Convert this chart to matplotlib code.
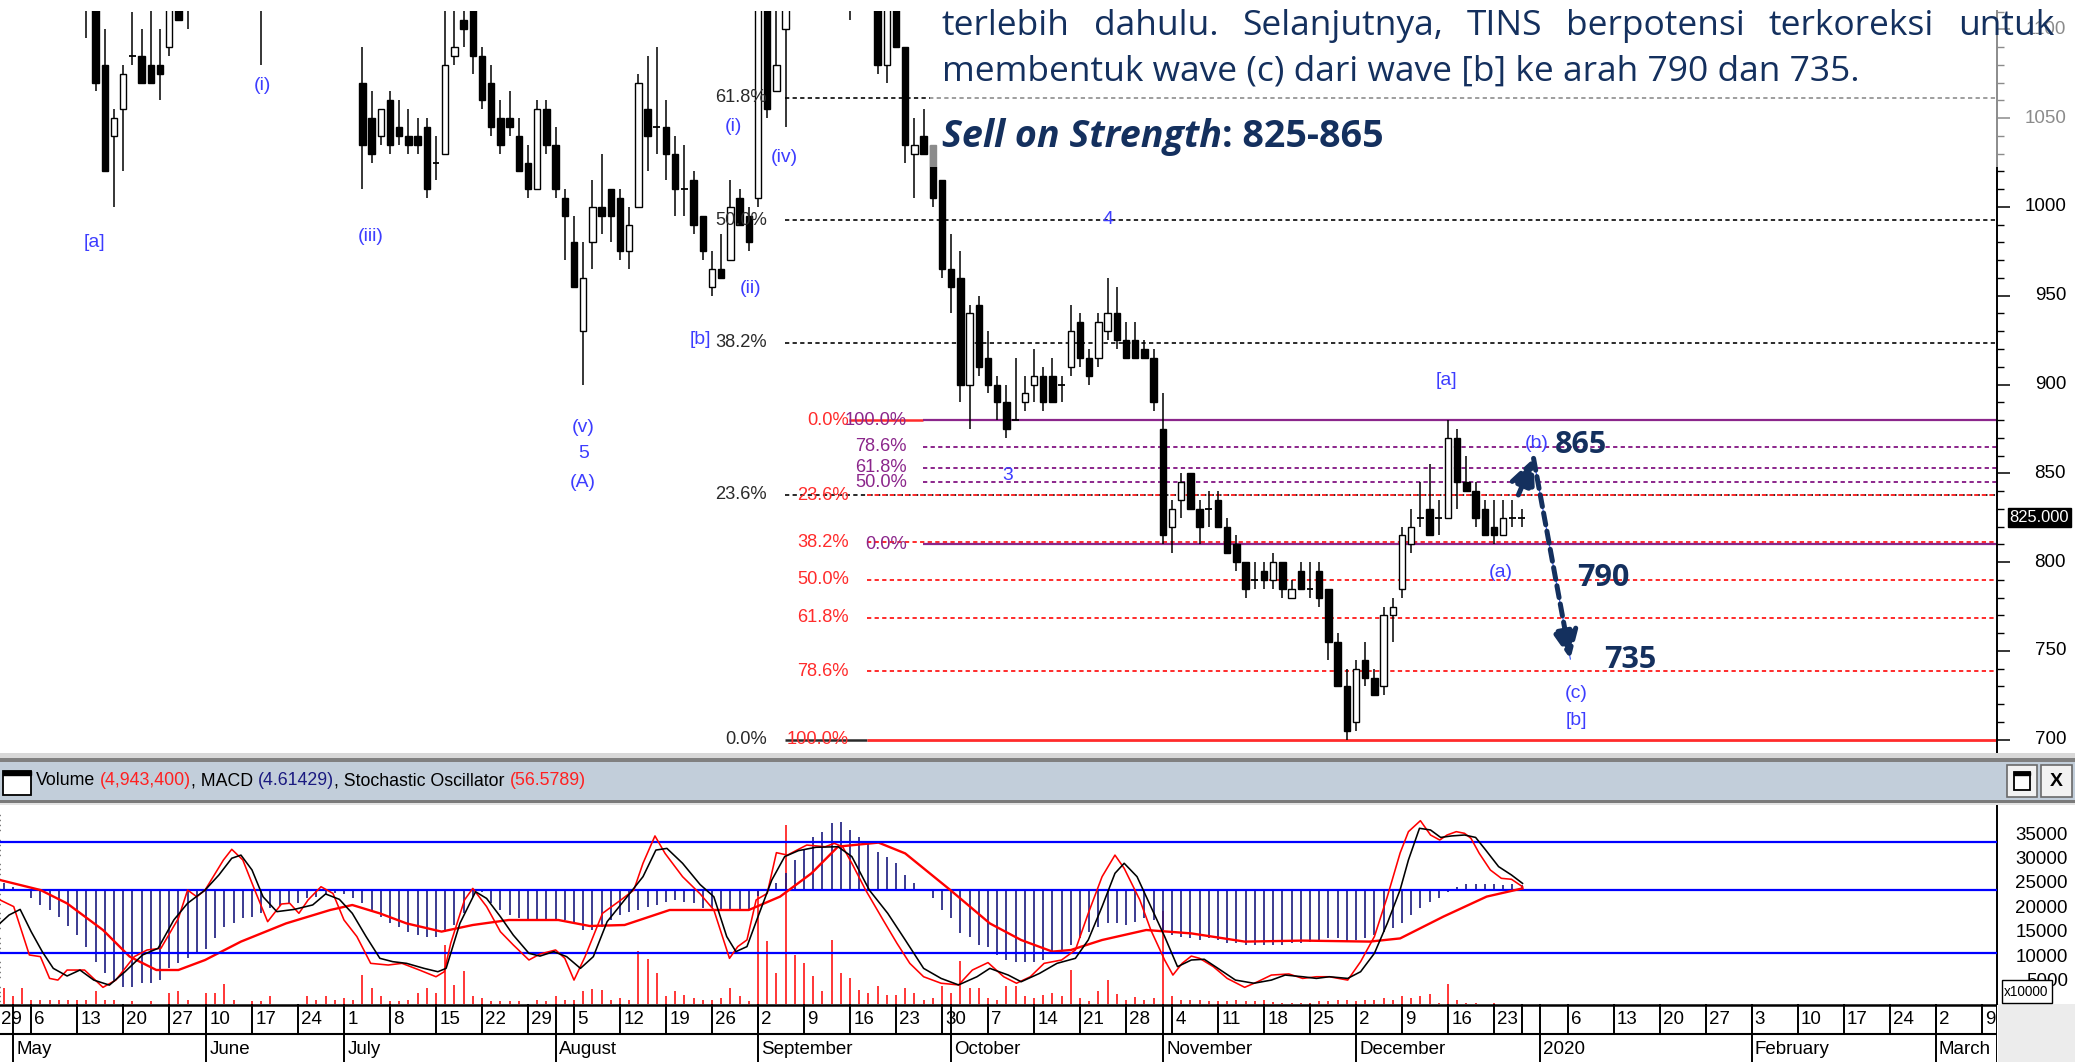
"""
TINS daily candlestick chart (May - Dec 2019) with Elliott-wave labels,
three Fibonacci retracement sets and a Volume / MACD / Stochastic pane.
Saved as out.png (2075 x 1062 px).
"""

import matplotlib

matplotlib.use("Agg")
import matplotlib.pyplot as plt
from matplotlib import font_manager
from matplotlib.patches import Rectangle
from matplotlib.transforms import Affine2D

# ----------------------------------------------------------------------------
# data (x = trading-day index, 0 = Monday 6 May 2019)
# ----------------------------------------------------------------------------
CANDLE_DAY = [6, 7, 8, 9, 10, 11, 12, 13, 14, 15, 16, 17, 25,
              36, 37, 38, 39, 40, 41, 42, 43, 44, 45, 46, 47, 48, 49, 50,
              51, 52, 53, 54, 55, 56, 57, 58, 59, 60, 61, 62, 63, 64, 65,
              66, 67, 68, 69, 70, 71, 72, 73, 74, 75, 76, 77, 78, 79, 80,
              81, 82, 89, 92, 93, 94, 95, 96, 97, 98, 99, 100, 101, 102,
              103, 104, 105, 106, 107, 108, 109, 110, 111, 112, 113, 114,
              115, 116, 117, 118, 119, 120, 121, 122, 123, 124, 125, 126,
              127, 128, 129, 130, 131, 132, 133, 134, 135, 136, 137, 138,
              139, 140, 141, 142, 143, 144, 145, 146, 147, 148, 149, 150,
              151, 152, 153, 154, 155, 156, 157, 158, 159, 160, 161, 162]
OPEN = [1130, 1120, 1080, 1040, 1055, 1085, 1085, 1080, 1080, 1090, 1115, 1130, 1140,
        1070, 1050, 1040, 1060, 1045, 1040, 1040, 1045, 1025, 1030, 1085, 1105, 1115, 1085, 1070,
        1050, 1050, 1040, 1025, 1010, 1055, 1035, 1005, 980, 930, 980, 1000, 1010, 1005, 975,
        1000, 1055, 1045, 1045, 1030, 1010, 1015, 995, 955, 965, 970, 1005, 995, 1005, 1160,
        1065, 1100, 1130, 1140, 1080, 1125, 1090, 1030, 1040, 1035, 1015, 965, 960, 900,
        945, 915, 900, 890, 880, 890, 900, 905, 905, 900, 910, 935,
        915, 915, 930, 940, 925, 925, 920, 915, 875, 820, 835, 850,
        830, 830, 835, 820, 810, 800, 790, 795, 790, 800, 780, 795,
        785, 795, 785, 755, 730, 710, 745, 735, 730, 770, 785, 810,
        825, 830, 825, 825, 870, 845, 840, 830, 820, 815, 825, 825]
HIGH = [1140, 1125, 1100, 1055, 1080, 1110, 1100, 1115, 1100, 1135, 1125, 1140, 1150,
        1090, 1065, 1055, 1065, 1060, 1055, 1050, 1050, 1040, 1115, 1115, 1115, 1120, 1090, 1080,
        1060, 1065, 1050, 1035, 1060, 1060, 1045, 1010, 995, 980, 1015, 1030, 1010, 1010, 1000,
        1075, 1085, 1090, 1060, 1040, 1035, 1020, 995, 975, 985, 1015, 1010, 1000, 1150, 1170,
        1120, 1130, 1140, 1150, 1135, 1135, 1090, 1050, 1055, 1035, 1015, 985, 975, 945,
        950, 930, 905, 900, 915, 905, 920, 910, 915, 905, 945, 940,
        920, 940, 960, 955, 935, 935, 925, 920, 895, 835, 850, 850,
        835, 840, 840, 825, 815, 800, 800, 800, 805, 800, 790, 800,
        800, 800, 785, 760, 740, 745, 755, 740, 775, 780, 820, 830,
        845, 855, 835, 880, 875, 860, 845, 835, 835, 835, 835, 830]
LOW = [1095, 1065, 1020, 1000, 1020, 1080, 1070, 1070, 1060, 1085, 1105, 1100, 1080,
       1010, 1025, 1035, 1030, 1035, 1030, 1030, 1005, 1015, 1030, 1080, 1090, 1075, 1055, 1040,
       1030, 1040, 1020, 1005, 1010, 1030, 1005, 970, 955, 900, 965, 985, 980, 970, 965,
       1000, 1020, 1030, 1015, 995, 995, 985, 970, 950, 960, 970, 990, 975, 1000, 1050,
       1065, 1045, 1105, 1075, 1070, 1090, 1025, 1005, 1030, 1000, 960, 940, 890, 875,
       905, 895, 880, 870, 880, 885, 890, 885, 890, 890, 905, 910,
       900, 910, 925, 920, 915, 915, 915, 885, 810, 805, 825, 830,
       810, 820, 820, 805, 795, 780, 785, 785, 785, 780, 780, 785,
       780, 775, 745, 730, 700, 705, 730, 725, 725, 755, 780, 805,
       820, 815, 815, 825, 830, 840, 820, 815, 810, 815, 820, 820]
CLOSE = [1120, 1070, 1020, 1050, 1075, 1085, 1070, 1070, 1075, 1125, 1105, 1120, 1130,
         1035, 1030, 1055, 1035, 1040, 1035, 1035, 1010, 1025, 1080, 1090, 1100, 1085, 1060, 1045,
         1035, 1045, 1020, 1010, 1055, 1035, 1010, 995, 955, 960, 1000, 995, 995, 975, 990,
         1070, 1040, 1045, 1030, 1010, 1010, 990, 975, 965, 960, 1000, 990, 980, 1140, 1055,
         1080, 1115, 1120, 1080, 1120, 1090, 1035, 1035, 1030, 1005, 965, 955, 900, 940,
         910, 900, 890, 875, 880, 895, 905, 890, 890, 900, 930, 915,
         905, 935, 940, 925, 915, 915, 915, 890, 815, 830, 845, 830,
         820, 830, 820, 805, 800, 785, 790, 790, 800, 785, 785, 785,
         785, 780, 755, 730, 705, 740, 735, 725, 770, 775, 815, 820,
         825, 815, 825, 870, 845, 840, 825, 815, 815, 825, 825, 825]
LAST_PRICE = 825

# indicator pane, one value per trading day starting at IND_FIRST_DAY
IND_FIRST_DAY = -3
VOLUME = [3750, 2045, 3750,
          1360, 1360, 1360, 1360, 1360, 1360, 1360, 3070, 1360, 1360,
          340, 1020, 340, 1020, 340, 2730, 3070, 1360, 340, 2730,
          2730, 4570, 1360, 340, 1020, 1020, 2045, 340, 340, 340,
          2045, 1360, 2045, 1360, 1700, 1360, 6340, 3750, 2045, 1020,
          1020, 1360, 2730, 3750, 2730, 12475, 4430, 7300, 2045, 1700,
          1020, 1020, 1020, 1020, 340, 1360, 1020, 2045, 1360, 1360,
          3070, 3610, 3410, 1360, 1700, 1360, 11390, 9750, 6815, 2045,
          3070, 2385, 1700, 1360, 1360, 1700, 3750, 2045, 1020, 23520,
          13290, 6815, 37000, 10430, 8860, 6135, 3070, 13630, 6815, 5790,
          3410, 2730, 4090, 2385, 2385, 3750, 2730, 1360, 1700, 4090,
          2730, 9200, 3750, 3750, 1700, 1360, 4090, 4090, 2045, 1700,
          2385, 2730, 2045, 7500, 1700, 1020, 3070, 5455, 2520, 1360,
          1840, 1360, 1700, 19430, 2045, 1360, 1360, 1360, 1020, 1020,
          1020, 1360, 1020, 1020, 1360, 880, 680, 680, 680, 680,
          1020, 1020, 1360, 1360, 1020, 1360, 1360, 1700, 1360, 2045,
          1700, 2045, 2520, 680, 4570, 1360, 680, 680, 480, 680,
          480, 480, 494]  # x10000 shares
MACD_HIST = [3.3, 1.7, 0.0,
             -4.2, -7.5, -10.0, -13.3, -18.0, -22.5, -28.3, -35.8, -41.3, -45.8,
             -48.3, -48.3, -46.7, -46.7, -45.0, -39.2, -36.7, -34.2, -31.7, -29.7,
             -24.2, -18.3, -16.7, -14.2, -13.3, -11.7, -9.2, -8.0, -7.0, -6.7,
             -4.2, -3.3, -2.0, -1.7, -2.0, -4.2, -6.7, -10.0, -13.3, -16.7,
             -18.3, -20.8, -22.5, -23.3, -23.3, -20.8, -17.5, -11.7, -3.3, -0.8,
             -6.7, -10.0, -12.5, -14.2, -15.0, -15.0, -15.0, -15.0, -15.0, -16.7,
             -20.0, -20.0, -18.3, -15.0, -12.5, -10.8, -10.0, -8.3, -7.5, -5.8,
             -5.0, -5.8, -6.7, -9.0, -9.0, -9.5, -10.0, -10.0, -10.0, -3.0,
             0.5, 3.3, 8.3, 15.0, 20.0, 26.3, 29.2, 33.7, 34.2, 30.0,
             26.3, 23.3, 19.2, 16.7, 13.3, 7.5, 3.3, 0.0, -4.2, -10.0,
             -14.2, -21.3, -23.3, -27.5, -28.3, -32.5, -35.0, -35.8, -35.8, -35.8,
             -35.0, -31.7, -30.0, -27.5, -24.2, -20.8, -18.3, -16.7, -16.7, -17.5,
             -15.8, -14.2, -15.0, -20.0, -22.5, -23.3, -24.2, -25.0, -24.2, -25.0,
             -26.7, -26.7, -27.5, -27.5, -27.5, -27.5, -27.5, -26.7, -26.7, -25.8,
             -25.0, -24.2, -24.2, -25.8, -25.0, -24.0, -22.5, -20.8, -19.0, -16.7,
             -12.5, -9.2, -5.8, -4.2, -0.8, 1.7, 3.0, 3.0, 3.0, 3.0,
             2.5, 3.0, 2.5]
SIGNAL_DAY = [-3.4, 1.0, 3.9, 7.8, 10.7, 13.6, 16.0, 18.9, 22.8, 27.7, 32.5, 34.9,
              37.9, 40.8, 44.6, 48.0, 51.9, 57.3, 60.7, 64.5, 69.4, 72.7, 78.0,
              81.4, 84.8, 87.7, 92.1, 95.0, 99.9, 104.2, 107.6, 111.0, 113.0,
              116.4, 121.2, 126.1, 131.9, 138.2, 145.5, 148.8, 153.5, 158.2, 162.1]
SIGNAL = [5.0, 0.0, -6.7, -20.0, -33.3, -40.0, -40.0, -35.0, -25.8, -16.7, -10.0, -7.5,
          -11.7, -16.7, -20.8, -17.5, -15.0, -15.0, -18.0, -17.5, -10.0, -10.0, -10.0,
          -3.3, 8.3, 21.7, 23.7, 18.3, 0.0, -16.7, -25.0, -30.8, -30.0,
          -25.0, -20.0, -21.7, -25.8, -25.3, -25.8, -24.2, -13.3, -3.3, 0.8]
STOCH_K_DAY = [-3.4, -1.9, -0.2, 1.0, 2.0, 2.9, 3.9, 5.8, 7.8, 9.2, 11.2, 12.6, 14.1,
               16.0, 17.0, 18.0, 18.9, 20.9, 21.8, 23.0, 24.3, 25.7, 27.2, 28.1, 29.1,
               30.1, 31.5, 32.8, 34.0, 35.4, 36.9, 38.8, 40.3, 42.2, 44.0, 44.9, 45.6,
               47.1, 48.0, 49.5, 51.0, 52.4, 54.1, 55.3, 57.0, 58.0, 59.0, 60.2, 62.1,
               64.1, 65.5, 66.5, 67.8, 68.9, 70.8, 72.7, 74.2, 75.9, 76.8, 77.8, 78.8,
               80.0, 81.0, 82.2, 83.4, 84.3, 86.3, 87.3, 88.2, 89.2, 90.7, 92.6, 94.1,
               95.5, 97.0, 98.9, 100.8, 102.3, 104.0, 105.7, 107.1, 108.6, 110.1, 112.0,
               113.5, 114.9, 116.4, 117.8, 118.8, 120.5, 121.7, 123.2, 124.1, 125.1,
               126.1, 127.0, 128.5, 130.0, 131.9, 133.3, 134.8, 136.7, 138.2, 139.7,
               141.1, 143.1, 144.5, 146.0, 147.4, 148.8, 149.7, 151.0, 152.1, 153.1,
               153.9, 154.9, 155.8, 156.5, 157.4, 158.6, 159.8, 160.9, 162.1]
STOCH_K = [48.7, 45.1, 19.1, 18.2, 6.5, 5.6, 11.0, 11.0, 1.7, 5.6, 18.2, 21.8, 22.7,
           38.8, 54.0, 50.4, 54.0, 70.2, 75.9, 70.2, 54.0, 37.0, 46.5, 46.9, 41.5,
           48.7, 55.8, 52.2, 37.9, 29.0, 14.6, 13.7, 14.6, 11.0, 7.4, 10.1, 25.4,
           48.7, 54.9, 45.1, 31.6, 24.5, 16.4, 19.6, 21.8, 17.3, 5.6, 18.2, 41.5,
           48.7, 54.0, 68.4, 83.1, 73.7, 61.2, 52.0, 43.3, 17.3, 23.6, 27.2, 48.7,
           52.2, 74.1, 72.8, 75.9, 78.2, 77.3, 79.1, 77.3, 68.4, 54.0, 37.9, 25.4,
           14.6, 7.4, 3.9, 3.0, 11.0, 15.0, 7.4, 3.9, 7.4, 14.6, 16.4,
           21.8, 41.5, 61.2, 72.8, 65.7, 48.7, 32.5, 16.4, 8.3, 14.6,
           18.5, 17.3, 12.8, 6.5, 1.7, 4.7, 8.3, 8.9, 6.5, 7.4,
           7.4, 5.6, 15.5, 29.0, 50.4, 74.0, 85.4, 91.3, 83.6, 80.9,
           83.6, 85.4, 84.5, 81.8, 73.7, 64.8, 60.3, 59.8, 55.8]
STOCH_D_DAY = [-3.4, -2.4, -1.2, 0.0, 1.2, 2.4, 3.9, 5.3, 6.8, 8.5, 10.2, 12.1, 13.8,
               15.5, 17.0, 18.9, 20.4, 21.8, 22.8, 24.0, 25.2, 26.7, 28.6, 30.6, 32.0,
               33.5, 34.9, 36.4, 37.9, 39.3, 40.8, 42.7, 44.2, 45.1, 46.6, 48.3, 49.5,
               51.0, 52.4, 54.1, 55.3, 56.8, 58.2, 59.7, 61.1, 62.6, 64.5, 66.5, 67.9,
               69.1, 70.8, 72.7, 74.2, 75.6, 76.6, 77.8, 79.0, 80.5, 81.9, 83.4, 85.3,
               87.7, 89.2, 91.1, 93.1, 95.0, 97.0, 98.9, 100.8, 102.8, 104.2, 106.2,
               107.6, 109.6, 111.5, 113.5, 114.9, 116.4, 117.8, 118.8, 120.2, 121.7,
               123.2, 124.6, 126.1, 127.5, 129.0, 130.9, 132.9, 134.8, 136.3, 138.2,
               139.7, 141.1, 143.1, 144.5, 146.0, 147.4, 148.8, 149.7, 150.9, 152.1,
               153.2, 154.4, 155.8, 157.0, 158.1, 159.5, 160.9, 162.1]
STOCH_D = [36.1, 40.6, 43.6, 31.6, 20.9, 11.9, 7.8, 11.0, 5.6, 2.9, 10.1, 19.1, 22.7,
           37.9, 46.9, 54.0, 62.1, 71.1, 72.8, 64.8, 50.4, 42.4, 43.6, 46.0, 51.9,
           49.0, 41.5, 29.0, 17.3, 15.5, 14.6, 11.9, 10.1, 11.9, 36.1, 53.1, 49.5,
           39.7, 29.8, 20.0, 18.5, 20.9, 18.2, 11.9, 18.2, 37.0, 48.7, 61.2, 75.5,
           76.4, 68.4, 57.0, 50.4, 29.0, 20.9, 23.6, 39.7, 59.4, 72.0, 75.2, 77.0,
           77.3, 72.0, 54.0, 41.5, 27.2, 11.9, 6.5, 3.0, 7.4, 11.9, 8.3,
           4.7, 9.2, 14.6, 17.3, 27.2, 45.1, 63.0, 68.4, 61.2, 45.1,
           29.0, 12.8, 16.4, 16.8, 11.9, 5.6, 3.9, 5.6, 8.3, 7.4,
           6.5, 7.4, 6.5, 10.1, 20.0, 36.1, 54.2, 70.2, 87.2, 86.3,
           82.3, 83.1, 83.6, 82.3, 75.5, 66.6, 62.1, 57.6]

# Fibonacci sets: (price at 0 %, price at 100 %), levels in %
BLACK_FIB = (700, 1285)
BLACK_FIB_LEVELS = [0.0, 23.6, 38.2, 50.0, 61.8]
RED_FIB = (880, 700)
RED_FIB_LEVELS = [0.0, 23.6, 38.2, 50.0, 61.8, 78.6, 100.0]
PURPLE_FIB = (810, 880)
PURPLE_FIB_LEVELS = [0.0, 50.0, 61.8, 78.6, 100.0]

PRICE_TICKS = [700, 750, 800, 850, 900, 950, 1000, 1050, 1100]
VOLUME_TICKS = [5000, 10000, 15000, 20000, 25000, 30000, 35000]

WEEK_DAY = [-5, 0, 5, 10, 15, 19, 24, 29, 34, 39, 44, 49, 54, 59, 64, 69, 74, 79,
            84, 89, 94, 99, 104, 109, 114, 119, 124, 129, 134, 139, 144, 149, 154,
            159, 162, 167, 172, 177, 182, 187, 192, 197, 202, 207, 212]
WEEK_LABEL = ["29", "6", "13", "20", "27", "10", "17", "24", "1", "8", "15", "22",
              "29", "5", "12", "19", "26", "2", "9", "16", "23", "30", "7", "14",
              "21", "28", "4", "11", "18", "25", "2", "9", "16", "23", "", "6",
              "13", "20", "27", "3", "10", "17", "24", "2", "9"]
MONTH_DAY = [-2, 19, 34, 57, 79, 100, 123, 144, 164, 187, 207]
MONTH_LABEL = ["May", "June", "July", "August", "September", "October",
               "November", "December", "2020", "February", "March"]

TEXT_LINE1 = "terlebih dahulu. Selanjutnya, TINS berpotensi terkoreksi untuk"
TEXT_LINE2 = "membentuk wave (c) dari wave [b] ke arah 790 dan 735."

# ----------------------------------------------------------------------------
# layout (image pixels)
# ----------------------------------------------------------------------------
W, H = 2075, 1062
AXIS_X = 1997
DAY0_X, DAY_W = 31.2, 9.2

NAVY = "#14305e"
WAVE_BLUE = "#3d3dff"
FIB_BLACK = "#2a2a2a"
FIB_RED = "#ff2b2b"
FIB_PURPLE = "#8b268b"

_names = {f.name for f in font_manager.fontManager.ttflist}
NARROW = "Liberation Sans Narrow" if "Liberation Sans Narrow" in _names else "Liberation Sans"
NS = 1.0 if NARROW == "Liberation Sans Narrow" else 0.82
SANS = "Open Sans" if "Open Sans" in _names else "DejaVu Sans"


def day_of(x):
    return (x - DAY0_X) / DAY_W


def price_at(y):
    return 700 + (739.7 - y) / 1.776


def rect(x0, y0, x1, y1):
    return [x0 / W, 1 - y1 / H, (x1 - x0) / W, (y1 - y0) / H]


XMIN, XMAX = day_of(0), day_of(AXIS_X)

fig = plt.figure(figsize=(W / 100, H / 100), dpi=100)
fig.patch.set_facecolor("white")
PX = Affine2D().scale(1 / W, -1 / H).translate(0, 1) + fig.transFigure


def box(x0, y0, x1, y1, **kw):
    fig.add_artist(Rectangle((x0, y0), x1 - x0, y1 - y0, transform=PX, **kw))


# ---------------------------------------------------------------- price pane
ax = fig.add_axes(rect(0, 11, AXIS_X, 754))
ax.set_xlim(XMIN, XMAX)
ax.set_ylim(price_at(754), price_at(11))
for s in ("left", "top", "bottom"):
    ax.spines[s].set_visible(False)
ax.spines["right"].set_linewidth(1.4)
ax.set_xticks([])
ax.yaxis.tick_right()
ax.set_yticks(PRICE_TICKS)
ax.set_yticks(range(700, 1111, 10), minor=True)
ax.tick_params(axis="y", which="major", length=9.5, width=1.1, labelright=False)
ax.tick_params(axis="y", which="minor", length=4.7, width=1.0)
ytr = ax.get_yaxis_transform()
for v in PRICE_TICKS:
    ax.text(2066 / AXIS_X, v, str(v), transform=ytr, ha="right", va="center",
            family=NARROW, fontsize=16.5 * NS)
ax.text(2069 / AXIS_X, LAST_PRICE, f"{LAST_PRICE:.3f}", transform=ytr, ha="right",
        va="center", color="white", family=NARROW, fontsize=14.5 * NS,
        bbox=dict(boxstyle="square,pad=0.12", fc="black", ec="black"))

# candles
ax.vlines(CANDLE_DAY, LOW, HIGH, color="black", lw=1.1, zorder=3)
for d, o, c in zip(CANDLE_DAY, OPEN, CLOSE):
    if o == c:
        ax.hlines(o, d - 0.37, d + 0.37, color="black", lw=1.3, zorder=4)
    else:
        ax.bar(d, abs(c - o), bottom=min(o, c), width=0.7, zorder=4,
               color="black" if c < o else "white", edgecolor="black", lw=1.0)

# Fibonacci retracements
dot = (0, (2.2, 1.7))
lab_kw = dict(family=NARROW, fontsize=16 * NS, va="center", ha="right", zorder=5)
lo, hi = BLACK_FIB
for lvl in BLACK_FIB_LEVELS:
    p = lo + lvl / 100 * (hi - lo)
    ax.text(day_of(767), p, f"{lvl:.1f}%", color=FIB_BLACK, **lab_kw)
    if lvl == 0:
        ax.hlines(p, day_of(785), day_of(867), color=FIB_BLACK, lw=1.8, zorder=2)
    else:
        ax.hlines(p, day_of(785), XMAX, color=FIB_BLACK, lw=1.4, linestyles=dot, zorder=2)
lo, hi = RED_FIB
for lvl in RED_FIB_LEVELS:
    p = lo + lvl / 100 * (hi - lo)
    ax.text(day_of(849), p, f"{lvl:.1f}%", color=FIB_RED, **lab_kw)
    if lvl == 0:
        ax.hlines(p, day_of(849), day_of(923), color=FIB_RED, lw=1.8, zorder=2)
    elif lvl == 100:
        ax.hlines(p, day_of(867), XMAX, color=FIB_RED, lw=2.0, zorder=2)
    else:
        ax.hlines(p, day_of(867), XMAX, color=FIB_RED, lw=1.4, linestyles=dot, zorder=2)
lo, hi = PURPLE_FIB
for lvl in PURPLE_FIB_LEVELS:
    p = lo + lvl / 100 * (hi - lo)
    ax.text(day_of(907), p, f"{lvl:.1f}%", color=FIB_PURPLE, **lab_kw)
    if lvl in (0, 100):
        ax.hlines(p, day_of(923), XMAX, color=FIB_PURPLE, lw=1.6, zorder=2)
    else:
        ax.hlines(p, day_of(923), XMAX, color=FIB_PURPLE, lw=1.4, linestyles=dot, zorder=2)

# Elliott wave labels
for s, d, p in [("[a]", 6.9, 980), ("(i)", 25.1, 1068.6), ("(iii)", 36.9, 983.5),
                ("(v)", 60.0, 876), ("5", 60.0, 861), ("(A)", 60.0, 844.6),
                ("(i)", 76.3, 1045), ("(ii)", 78.2, 954), ("(iv)", 81.9, 1028),
                ("[b]", 72.7, 925.6), ("4", 117.0, 993), ("3", 106.1, 849),
                ("[a]", 153.8, 902.5), ("(b)", 163.6, 867), ("(a)", 159.7, 794),
                ("(c)", 167.9, 726), ("[b]", 167.9, 711)]:
    ax.text(d, p, s, color=WAVE_BLUE, family=NARROW, fontsize=17 * NS,
            ha="center", va="center", zorder=6)

for s, d, p in [("865", 165.6, 866), ("790", 168.0, 791), ("735", 171.0, 745)]:
    ax.text(d, p, s, color=NAVY, family=SANS, weight="bold", fontsize=22,
            ha="left", va="center", zorder=6)

# projected path (b) -> (c)
ax.plot([163.3, 167.3], [858.4, 745.4], color="#3355ff", lw=0.8, zorder=6)
arrow = dict(arrowstyle="-|>,head_length=0.65,head_width=0.3", color=NAVY, lw=3.6,
             linestyle=(0, (2.4, 1.3)), mutation_scale=26, shrinkA=0, shrinkB=0)
ax.annotate("", xy=(163.3, 858.4), xytext=(161.65, 837.8), arrowprops=arrow, zorder=7)
ax.annotate("", xy=(167.3, 745.4), xytext=(163.3, 858.4), arrowprops=arrow, zorder=7)

# ---------------------------------------------------------------- indicator pane
vol_at = lambda y: (1006.2 - y) / 24.45 * 5000
axv = fig.add_axes(rect(0, 805, AXIS_X, 1004))
axv.set_xlim(XMIN, XMAX)
axv.set_ylim(vol_at(1004), vol_at(805))
for s in ("left", "top", "bottom"):
    axv.spines[s].set_visible(False)
axv.spines["right"].set_linewidth(1.4)
axv.set_xticks([])
axv.yaxis.tick_right()
axv.set_yticks(VOLUME_TICKS + [40000])
axv.set_yticks(range(1000, 41000, 1000), minor=True)
axv.tick_params(axis="y", which="major", length=9.5, width=1.1, labelright=False)
axv.tick_params(axis="y", which="minor", length=4.7, width=1.0)
for v in VOLUME_TICKS:
    axv.text(2068 / AXIS_X, v, str(v), transform=axv.get_yaxis_transform(),
             ha="right", va="center", family=NARROW, fontsize=16.5 * NS)
ind_days = list(range(IND_FIRST_DAY, IND_FIRST_DAY + len(VOLUME)))
axv.vlines(ind_days, 0, VOLUME, color="#ff0000", lw=1.1)

axm = axv.twinx()
axm.set_ylim((890 - 1004) / 2, (890 - 805) / 2)
axm.axis("off")
axm.vlines(ind_days, 0, MACD_HIST, color="#1a1a7e", lw=1.2)
axm.axhline(0, color="#0000ff", lw=1.6)
axm.plot(SIGNAL_DAY, SIGNAL, color="#ff0000", lw=1.7)

axs = axv.twinx()
axs.set_ylim(20 + (953.3 - 1004) / 1.86, 20 + (953.3 - 805) / 1.86)
axs.axis("off")
axs.axhline(80, color="#0000ff", lw=1.6)
axs.axhline(20, color="#0000ff", lw=1.6)
axs.plot(STOCH_K_DAY, STOCH_K, color="#ff0000", lw=1.15)
axs.plot(STOCH_D_DAY, STOCH_D, color="black", lw=1.15)
for a in (axm, axs):
    a.set_xlim(XMIN, XMAX)

# ---------------------------------------------------------------- date rows
axd = fig.add_axes(rect(0, 1004, AXIS_X, H))
axd.set_xlim(XMIN, XMAX)
axd.set_ylim(H, 1004)
axd.axis("off")
axd.axhline(1005, color="black", lw=1.8)
axd.axhline(1034, color="black", lw=1.5)
axd.vlines(WEEK_DAY, 1004, 1034, color="black", lw=1.4)
axd.vlines(MONTH_DAY, 1004, H, color="black", lw=1.4)
axd.vlines(XMAX - 0.05, 1004, H, color="black", lw=1.4)
for d, s in zip(WEEK_DAY, WEEK_LABEL):
    axd.text(max(d + 0.35, XMIN + 0.15), 1020, s, ha="left", va="center",
             family=NARROW, fontsize=16.5 * NS)
for d, s in zip(MONTH_DAY, MONTH_LABEL):
    axd.text(d + 0.35, 1049, s, ha="left", va="center", family=NARROW,
             fontsize=16.5 * NS)
box(AXIS_X + 1, 1004, W, H, fc="#ececec", ec="none", zorder=1)

# ---------------------------------------------------------------- header bar
box(0, 753, W, 758, fc="#d8d8d8", ec="none", zorder=1)
box(0, 758, W, 762, fc="#808080", ec="none", zorder=1)
box(0, 762, W, 800, fc="#c2ceda", ec="none", zorder=1)
box(0, 800, W, 803, fc="#7a7a7a", ec="none", zorder=1)
box(0, 803, W, 805, fc="#e2e2e2", ec="none", zorder=1)
box(3, 771, 31, 795, fc="white", ec="black", lw=1.3, zorder=2)
box(3, 771, 31, 775, fc="black", ec="black", lw=1.0, zorder=2)
box(2007, 765, 2037, 797, fc="#f2f2f2", ec="#6a6a6a", lw=1.2, zorder=2)
box(2014, 772, 2030, 790, fc="white", ec="black", lw=1.3, zorder=3)
box(2014, 772, 2030, 775, fc="black", ec="black", lw=1.0, zorder=3)
box(2041, 765, 2072, 797, fc="#f2f2f2", ec="#6a6a6a", lw=1.2, zorder=2)
fig.text(2056.5, 781, "X", transform=PX, ha="center", va="center", family=NARROW,
         weight="bold", fontsize=17 * NS, zorder=3)

# x10000 multiplier box
box(2002, 980, 2052, 1003, fc="white", ec="black", lw=1.0, zorder=2)
fig.text(2004, 992, "x10000", transform=PX, ha="left", va="center", family=NARROW,
         fontsize=12 * NS, zorder=3)

renderer = fig.canvas.get_renderer()


def width_of(t):
    return t.get_window_extent(renderer).width


def run(pieces, x, y, target_w, size, family, gap_ref="x x"):
    """Lay out coloured pieces on one baseline and scale them to target_w."""
    arts = [fig.text(x, y, s, transform=PX, va="baseline", family=family,
                     fontsize=size, zorder=4, **kw) for s, _, kw in pieces]
    probe = fig.text(0, 0, gap_ref, family=family, fontsize=size)
    probe2 = fig.text(0, 0, gap_ref.replace(" ", ""), family=family, fontsize=size)
    sp = width_of(probe) - width_of(probe2)
    probe.remove()
    probe2.remove()
    total = sum(width_of(a) for a in arts) + sp * sum(n for _, n, _ in pieces)
    k = target_w / total
    for a in arts:
        a.set_fontsize(size * k)
    sp *= k
    cx = x
    for a, (_, n, _) in zip(arts, pieces):
        a.set_x(cx)
        cx += width_of(a) + n * sp
    return arts


HEAD_RED, HEAD_NAVY = "#ff2020", "#1a1a80"
run([("Volume", 1, {}), ("(4,943,400)", 0, {"color": HEAD_RED}),
     (", MACD", 1, {}), ("(4.61429)", 0, {"color": HEAD_NAVY}),
     (", Stochastic Oscillator", 1, {}), ("(56.5789)", 0, {"color": HEAD_RED})],
    36, 785, 552, 16, NARROW)

# ---------------------------------------------------------------- commentary text
box(930, 0, W, 167, fc="white", ec="none", alpha=0.55, zorder=2)

line2 = fig.text(942, 80, TEXT_LINE2, transform=PX, va="baseline", family=SANS,
                 fontsize=22, color=NAVY, zorder=4)
size = 22 * (1858 - 942) / width_of(line2)
line2.set_fontsize(size)
words = [fig.text(0, 35, w, transform=PX, va="baseline", family=SANS,
                  fontsize=size, color=NAVY, zorder=4) for w in TEXT_LINE1.split()]
ws = [width_of(t) for t in words]
gap = (2054 - 942 - sum(ws)) / (len(words) - 1)
cx = 942
for t, w in zip(words, ws):
    t.set_x(cx)
    cx += w + gap

run([("Sell on Strength", 0, {"color": NAVY, "weight": "bold", "style": "italic"}),
     (": 825-865", 0, {"color": NAVY, "weight": "bold"})],
    942, 147, 441, 27, SANS)

fig.savefig("out.png", dpi=100, facecolor="white")
